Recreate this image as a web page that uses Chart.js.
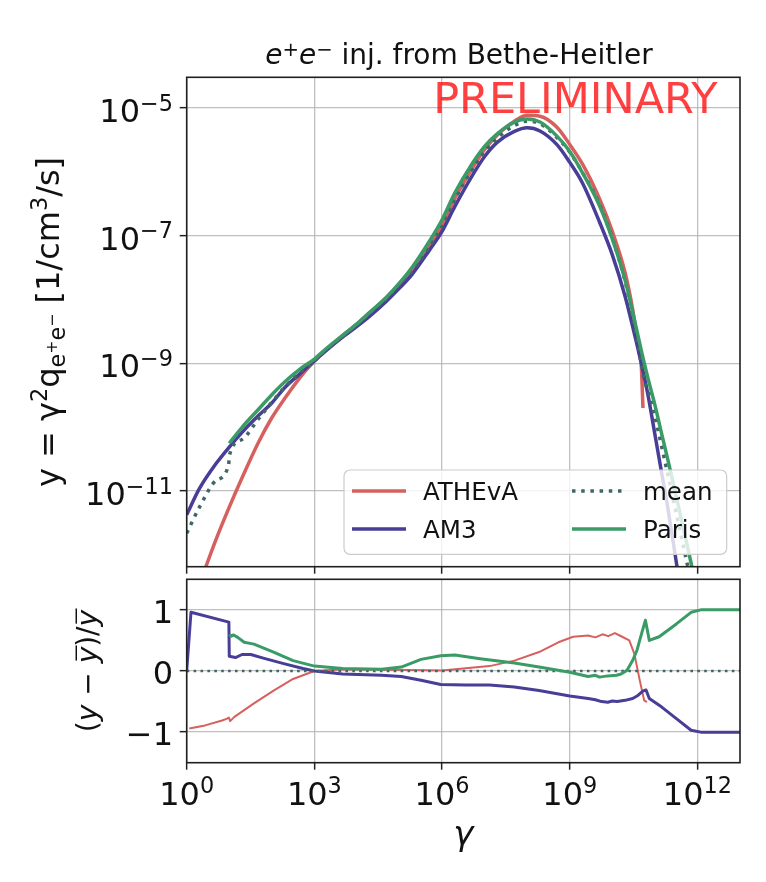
<!DOCTYPE html>
<html>
<head>
<meta charset="utf-8">
<script src="https://cdn.jsdelivr.net/npm/chart.js"></script>
<style>
html,body{margin:0;padding:0;background:#fff;}
#wrap{position:relative;width:766px;height:882px;overflow:hidden;background:#fff;}
#wrap canvas{position:absolute;left:0;top:0;}
</style>
</head>
<body>
<div id="wrap">
<canvas id="topChart" width="766" height="882"></canvas>
<canvas id="botChart" width="766" height="882"></canvas>
</div>
<script>
// ---------------- data ----------------
const seriesLabels = ['ATHEvA', 'AM3', 'mean', 'Paris'];

// top panel: y = gamma^2 q  [1/cm^3/s]
const gammaATHEvA = [1.15, 2, 5, 10, 20, 50, 100, 200, 500, 1e3, 2e3, 5e3, 1e4, 2e4, 5e4, 1e5, 2e5, 5e5, 1e6, 2e6, 5e6, 1e7, 2e7, 5e7, 1e8, 2e8, 5e8, 1e9, 2e9, 5e9, 1e10, 2e10, 3e10, 4.2e10, 4.8e10, 5.25e10];
const yATHEvA = [1.41e-13, 3.55e-13, 1.82e-12, 5.62e-12, 1.62e-11, 6.03e-11, 1.41e-10, 2.82e-10, 6.46e-10, 1.08e-9, 1.68e-9, 2.86e-9, 4.13e-9, 6.25e-9, 1.09e-8, 1.74e-8, 2.90e-8, 6.76e-8, 1.44e-7, 3.83e-7, 1.11e-6, 2.24e-6, 3.78e-6, 6.24e-6, 7.69e-6, 7.46e-6, 5.01e-6, 2.69e-6, 1.32e-6, 3.80e-7, 1.17e-7, 2.63e-8, 7.08e-9, 1.58e-9, 8.91e-10, 2.00e-10];

const gammaAM3 = [1, 2, 5, 10, 20, 50, 100, 200, 500, 1e3, 2e3, 5e3, 1e4, 2e4, 5e4, 1e5, 2e5, 5e5, 1e6, 2e6, 5e6, 1e7, 2e7, 5e7, 1e8, 2e8, 5e8, 1e9, 2e9, 5e9, 1e10, 2e10, 3e10, 5e10, 7e10, 1e11, 1.5e11, 2e11, 3e11, 5e11];
const yAM3 = [4.27e-12, 1.10e-11, 2.75e-11, 4.90e-11, 8.32e-11, 1.55e-10, 2.40e-10, 4.17e-10, 7.24e-10, 1.10e-9, 1.64e-9, 2.69e-9, 3.80e-9, 5.50e-9, 9.55e-9, 1.51e-8, 2.51e-8, 5.89e-8, 1.17e-7, 2.88e-7, 8.51e-7, 1.74e-6, 2.92e-6, 4.30e-6, 4.90e-6, 4.37e-6, 2.67e-6, 1.41e-6, 6.65e-7, 1.64e-7, 5.01e-8, 1.12e-8, 3.80e-9, 8.91e-10, 3.02e-10, 7.76e-11, 1.66e-11, 5.62e-12, 1.00e-12, 1.12e-13];

const gammaMean = [1, 2, 5, 9.7, 10, 20, 50, 100, 200, 500, 1e3, 2e3, 5e3, 1e4, 2e4, 5e4, 1e5, 2e5, 5e5, 1e6, 2e6, 5e6, 1e7, 2e7, 5e7, 1e8, 2e8, 5e8, 1e9, 2e9, 5e9, 1e10, 2e10, 3e10, 4.2e10, 5e10, 5.9e10, 7e10, 1e11, 1.5e11, 2e11, 3e11, 5e11, 7e11, 1e12];
const yMean = [2.19e-12, 5.62e-12, 1.48e-11, 2.63e-11, 3.55e-11, 6.46e-11, 1.39e-10, 2.47e-10, 4.21e-10, 7.60e-10, 1.09e-9, 1.66e-9, 2.77e-9, 4.03e-9, 6.12e-9, 1.06e-8, 1.72e-8, 2.86e-8, 6.71e-8, 1.42e-7, 3.72e-7, 1.07e-6, 2.09e-6, 3.40e-6, 5.33e-6, 6.21e-6, 5.66e-6, 3.45e-6, 2.04e-6, 9.77e-7, 3.09e-7, 9.12e-8, 1.91e-8, 5.50e-9, 1.66e-9, 8.32e-10, 4.90e-10, 3.70e-10, 1.47e-10, 4.43e-11, 1.87e-11, 5.40e-12, 1.11e-12, 3.94e-13, 1.26e-13];

const gammaParis = [10, 20, 50, 100, 200, 500, 1e3, 2e3, 5e3, 1e4, 2e4, 5e4, 1e5, 2e5, 5e5, 1e6, 2e6, 5e6, 1e7, 2e7, 5e7, 1e8, 2e8, 5e8, 1e9, 2e9, 5e9, 1e10, 2e10, 3e10, 5e10, 7e10, 1e11, 1.5e11, 2e11, 3e11, 5e11, 7e11, 1e12];
const yParis = [5.62e-11, 1.00e-10, 1.95e-10, 3.24e-10, 5.13e-10, 8.51e-10, 1.17e-9, 1.76e-9, 2.88e-9, 4.17e-9, 6.31e-9, 1.10e-8, 1.82e-8, 3.24e-8, 8.13e-8, 1.78e-7, 4.68e-7, 1.32e-6, 2.51e-6, 3.98e-6, 6.03e-6, 6.76e-6, 6.03e-6, 3.63e-6, 2.09e-6, 9.66e-7, 2.95e-7, 8.91e-8, 2.00e-8, 6.46e-9, 1.41e-9, 5.62e-10, 2.24e-10, 7.08e-11, 3.16e-11, 9.77e-12, 2.14e-12, 7.76e-13, 2.51e-13];

// bottom panel: (y - mean) / mean
const gammaRelATHEvA = [1.15, 2.7, 6.8, 8.9, 9.8, 10.5, 13.2, 38, 110, 316, 1e3, 4.6e3, 6.5e4, 1e6, 1.3e7, 5e7, 1.9e8, 5.4e8, 1.2e9, 2.7e9, 4e9, 5.9e9, 8e9, 1.15e10, 1.7e10, 2.5e10, 3.3e10, 4.4e10, 5.6e10, 6.5e10];
const relATHEvA = [-0.94, -0.89, -0.81, -0.78, -0.76, -0.82, -0.75, -0.53, -0.32, -0.13, 0.0, 0.03, 0.02, 0.01, 0.08, 0.17, 0.31, 0.47, 0.56, 0.58, 0.55, 0.60, 0.57, 0.62, 0.56, 0.50, 0.28, -0.15, -0.48, -0.51];

const gammaRelAM3 = [1, 1.26, 9.8, 10, 14, 20, 32, 63, 190, 540, 1e3, 4.6e3, 3.8e4, 1.1e5, 3.2e5, 9.3e5, 3.5e6, 1.3e7, 5e7, 1.9e8, 1e9, 2.7e9, 4e9, 5.6e9, 7.8e9, 1e10, 1.3e10, 2e10, 3e10, 4e10, 5.2e10, 6.2e10, 7.4e10, 1.45e11, 3.2e11, 7.1e11, 1.2e12, 1e13];
const relAM3 = [0, 0.96, 0.80, 0.24, 0.22, 0.27, 0.27, 0.21, 0.12, 0.04, 0.0, -0.05, -0.07, -0.09, -0.15, -0.22, -0.23, -0.23, -0.26, -0.32, -0.41, -0.45, -0.47, -0.50, -0.51, -0.49, -0.50, -0.48, -0.45, -0.40, -0.33, -0.31, -0.45, -0.59, -0.78, -0.97, -1.0, -1.0];

const gammaRelMean = [1, 1e13];
const relMean = [0, 0];

const gammaRelParis = [10, 11.2, 12.6, 15.8, 22.4, 38, 110, 316, 1e3, 4.6e3, 3.8e4, 1.1e5, 3.2e5, 9.3e5, 2e6, 7.8e6, 5e7, 1.9e8, 1e9, 2.7e9, 4e9, 5e9, 7.8e9, 1.26e10, 1.6e10, 2.2e10, 3e10, 3.8e10, 5e10, 6e10, 7.4e10, 1.26e11, 3.2e11, 7.1e11, 1.2e12, 1e13];
const relParis = [0.60, 0.57, 0.59, 0.55, 0.47, 0.44, 0.31, 0.17, 0.08, 0.04, 0.03, 0.065, 0.19, 0.25, 0.26, 0.20, 0.13, 0.065, -0.02, -0.09, -0.07, -0.10, -0.08, -0.07, -0.05, 0.01, 0.17, 0.34, 0.64, 0.83, 0.50, 0.56, 0.77, 0.96, 1.0, 1.0];

// ticks
const xTicks = [1, 1e3, 1e6, 1e9, 1e12];
const xTickExp = ['0', '3', '6', '9', '12'];
const topYTicks = [1e-11, 1e-9, 1e-7, 1e-5];
const topYTickExp = ['\u221211', '\u22129', '\u22127', '\u22125'];
const relTicks = [-1, 0, 1];
const relTickLabels = ['\u22121', '0', '1'];

// ---------------- style ----------------
const cRed = '#d6605e';
const cBlue = '#483d97';
const cMean = '#3f6767';
const cGreen = '#3a9b66';
const gridColor = 'rgba(176,176,176,0.8)';
const FF = '"DejaVu Sans", sans-serif';
const TICKF = 32;

function pts(xs, ys) { return xs.map((x, i) => ({ x: x, y: ys[i] })); }
function fnt(s, it) { return (it ? 'italic ' : '') + s + 'px ' + FF; }

function drawRuns(ctx, parts, x, y, align) {
  let w = 0;
  for (const p of parts) { ctx.font = fnt(p.s, p.i); p.w = ctx.measureText(p.t).width + (p.g || 0); w += p.w; }
  let cx = align === 'center' ? x - w / 2 : (align === 'right' ? x - w : x);
  ctx.textAlign = 'left';
  ctx.textBaseline = 'alphabetic';
  for (const p of parts) {
    ctx.font = fnt(p.s, p.i);
    const yy = y - (p.dy || 0);
    ctx.fillText(p.t, cx, yy);
    if (p.over) {
      ctx.save();
      ctx.lineWidth = 1.5;
      ctx.strokeStyle = ctx.fillStyle;
      ctx.beginPath();
      const oy = yy - p.s * 0.74;
      ctx.moveTo(cx + p.s * 0.1, oy);
      ctx.lineTo(cx + p.w + p.s * 0.05, oy);
      ctx.stroke();
      ctx.restore();
    }
    cx += p.w;
  }
}

function powParts(exp) {
  return [{ t: '10', s: TICKF }, { t: exp, s: TICKF * 0.7, dy: TICKF * 0.36 }];
}

function xScaleOpts() {
  return {
    type: 'logarithmic', min: 1, max: 1e13, bounds: 'data',
    ticks: { display: false },
    grid: { color: gridColor, lineWidth: 1.3, tickLength: 7, tickColor: '#222', tickWidth: 1.5 },
    border: { display: false },
    afterFit: s => { s.height = 0; },
    afterBuildTicks: s => { s.ticks = xTicks.map(v => ({ value: v })); }
  };
}

function frame(ctx, a) {
  ctx.save();
  ctx.strokeStyle = '#1f1f1f';
  ctx.lineWidth = 1.6;
  ctx.strokeRect(a.left, a.top, a.right - a.left, a.bottom - a.top);
  ctx.restore();
}

function roundRect(ctx, x, y, w, h, r) {
  ctx.beginPath();
  ctx.moveTo(x + r, y);
  ctx.lineTo(x + w - r, y); ctx.arcTo(x + w, y, x + w, y + r, r);
  ctx.lineTo(x + w, y + h - r); ctx.arcTo(x + w, y + h, x + w - r, y + h, r);
  ctx.lineTo(x + r, y + h); ctx.arcTo(x, y + h, x, y + h - r, r);
  ctx.lineTo(x, y + r); ctx.arcTo(x, y, x + r, y, r);
  ctx.closePath();
}

function drawLegend(ctx, chart) {
  ctx.save();
  roundRect(ctx, 344, 470, 382.7, 84.3, 6);
  ctx.fillStyle = 'rgba(255,255,255,0.8)';
  ctx.fill();
  ctx.strokeStyle = '#cccccc';
  ctx.lineWidth = 1.2;
  ctx.stroke();
  const pos = { 'ATHEvA': [352, 491, 500], 'AM3': [352, 529, 537.7], 'mean': [572, 491, 500], 'Paris': [572, 529, 537.7] };
  for (const ds of chart.data.datasets) {
    const p = pos[ds.label];
    ctx.beginPath();
    ctx.setLineDash(ds.borderDash || []);
    ctx.lineDashOffset = 0;
    ctx.strokeStyle = ds.borderColor;
    ctx.lineWidth = ds.borderWidth;
    ctx.lineCap = 'butt';
    ctx.moveTo(p[0], p[1]);
    ctx.lineTo(p[0] + 54, p[1]);
    ctx.stroke();
    ctx.setLineDash([]);
    ctx.fillStyle = '#111';
    ctx.font = fnt(24.5);
    ctx.textAlign = 'left';
    ctx.textBaseline = 'alphabetic';
    ctx.fillText(ds.label, p[0] + 71, p[2]);
  }
  ctx.restore();
}

const topDecor = {
  id: 'topDecor',
  afterDatasetsDraw(chart) {
    const ctx = chart.ctx, a = chart.chartArea;
    frame(ctx, a);
    ctx.save();
    // PRELIMINARY stamp
    ctx.font = fnt(43);
    ctx.fillStyle = 'rgba(255,0,0,0.75)';
    ctx.textAlign = 'right';
    ctx.textBaseline = 'alphabetic';
    ctx.fillText('PRELIMINARY', 717.5, 112.7);
    ctx.restore();
    drawLegend(ctx, chart);
    ctx.save();
    ctx.fillStyle = '#111';
    // y tick labels
    topYTicks.forEach((v, i) => {
      const py = chart.scales.y.getPixelForValue(v);
      drawRuns(ctx, powParts(topYTickExp[i]), 173, py + 14, 'right');
    });
    // title
    drawRuns(ctx, [
      { t: 'e', s: 28, i: true }, { t: '+', s: 19.6, dy: 8.5 },
      { t: 'e', s: 28, i: true }, { t: '\u2212', s: 19.6, dy: 8.5 },
      { t: ' inj. from Bethe-Heitler', s: 28 }
    ], 459, 64, 'center');
    // y label (rotated)
    ctx.save();
    ctx.translate(59, (a.top + a.bottom) / 2);
    ctx.rotate(-Math.PI / 2);
    drawRuns(ctx, [
      { t: 'y = ', s: 32 }, { t: '\u03b3', s: 32 }, { t: '2', s: 22.4, dy: 12 },
      { t: 'q', s: 32 }, { t: 'e', s: 22.4, dy: -6 }, { t: '+', s: 15.7, dy: 2 },
      { t: 'e', s: 22.4, dy: -6 }, { t: '\u2212', s: 15.7, dy: 2 },
      { t: ' [1/cm', s: 32 }, { t: '3', s: 22.4, dy: 12 }, { t: '/s]', s: 32 }
    ], 0, 0, 'center');
    ctx.restore();
    ctx.restore();
  }
};

const botDecor = {
  id: 'botDecor',
  afterDatasetsDraw(chart) {
    const ctx = chart.ctx, a = chart.chartArea;
    frame(ctx, a);
    ctx.save();
    ctx.fillStyle = '#111';
    relTicks.forEach((v, i) => {
      const py = chart.scales.y.getPixelForValue(v);
      drawRuns(ctx, [{ t: relTickLabels[i], s: TICKF }], 173, py + 13, 'right');
    });
    xTicks.forEach((v, i) => {
      const px = chart.scales.x.getPixelForValue(v);
      drawRuns(ctx, powParts(xTickExp[i]), px, 805, 'center');
    });
    // x label
    drawRuns(ctx, [{ t: '\u03b3', s: 34, i: true }], (a.left + a.right) / 2, 845, 'center');
    // y label (rotated)
    ctx.save();
    ctx.translate(97, (a.top + a.bottom) / 2);
    ctx.rotate(-Math.PI / 2);
    drawRuns(ctx, [
      { t: '(', s: 28 }, { t: 'y', s: 28, i: true }, { t: ' \u2212 ', s: 28 },
      { t: 'y', s: 28, i: true, over: true }, { t: ')', s: 28 }, { t: '/', s: 28 },
      { t: 'y', s: 28, i: true, over: true }
    ], 0, 0, 'center');
    ctx.restore();
    ctx.restore();
  }
};

// ---------------- top chart ----------------
new Chart(document.getElementById('topChart'), {
  type: 'line',
  data: {
    datasets: [
      { label: seriesLabels[0], data: pts(gammaATHEvA, yATHEvA), borderColor: cRed, borderWidth: 3.5, order: 4 },
      { label: seriesLabels[1], data: pts(gammaAM3, yAM3), borderColor: cBlue, borderWidth: 3.5, order: 3 },
      { label: seriesLabels[2], data: pts(gammaMean, yMean), borderColor: cMean, borderWidth: 3.5, borderDash: [3.5, 5.7], order: 2 },
      { label: seriesLabels[3], data: pts(gammaParis, yParis), borderColor: cGreen, borderWidth: 3.5, order: 1 }
    ]
  },
  options: {
    responsive: false,
    animation: false,
    events: [],
    clip: 0,
    layout: { padding: { left: 186.7, top: 77.3, right: 26, bottom: 315.3 } },
    plugins: { legend: { display: false }, tooltip: { enabled: false }, title: { display: false } },
    elements: { point: { radius: 0 }, line: { cubicInterpolationMode: 'monotone', fill: false, borderCapStyle: 'butt', borderJoinStyle: 'round' } },
    scales: {
      x: xScaleOpts(),
      y: {
        type: 'logarithmic', min: 6.55e-13, max: 3.03e-5, bounds: 'data',
        ticks: { display: false },
        grid: { color: gridColor, lineWidth: 1.3, tickLength: 7, tickColor: '#222', tickWidth: 1.5 },
        border: { display: false },
        afterFit: s => { s.width = 0; },
        afterBuildTicks: s => { s.ticks = topYTicks.map(v => ({ value: v })); }
      }
    }
  },
  plugins: [topDecor]
});

// ---------------- bottom chart ----------------
new Chart(document.getElementById('botChart'), {
  type: 'line',
  data: {
    datasets: [
      { label: seriesLabels[0], data: pts(gammaRelATHEvA, relATHEvA), borderColor: cRed, borderWidth: 2, order: 4 },
      { label: seriesLabels[1], data: pts(gammaRelAM3, relAM3), borderColor: cBlue, borderWidth: 3, order: 3 },
      { label: seriesLabels[2], data: pts(gammaRelMean, relMean), borderColor: cMean, borderWidth: 2.6, borderDash: [2.6, 4.3], order: 2 },
      { label: seriesLabels[3], data: pts(gammaRelParis, relParis), borderColor: cGreen, borderWidth: 3, order: 1 }
    ]
  },
  options: {
    responsive: false,
    animation: false,
    events: [],
    clip: 0,
    layout: { padding: { left: 186.7, top: 579.3, right: 26, bottom: 119.3 } },
    plugins: { legend: { display: false }, tooltip: { enabled: false }, title: { display: false } },
    elements: { point: { radius: 0 }, line: { tension: 0, fill: false, borderCapStyle: 'butt', borderJoinStyle: 'round' } },
    scales: {
      x: xScaleOpts(),
      y: {
        type: 'linear', min: -1.5, max: 1.5, bounds: 'data',
        ticks: { display: false },
        grid: { color: gridColor, lineWidth: 1.3, tickLength: 7, tickColor: '#222', tickWidth: 1.5 },
        border: { display: false },
        afterFit: s => { s.width = 0; },
        afterBuildTicks: s => { s.ticks = relTicks.map(v => ({ value: v })); }
      }
    }
  },
  plugins: [botDecor]
});
</script>
</body>
</html>
